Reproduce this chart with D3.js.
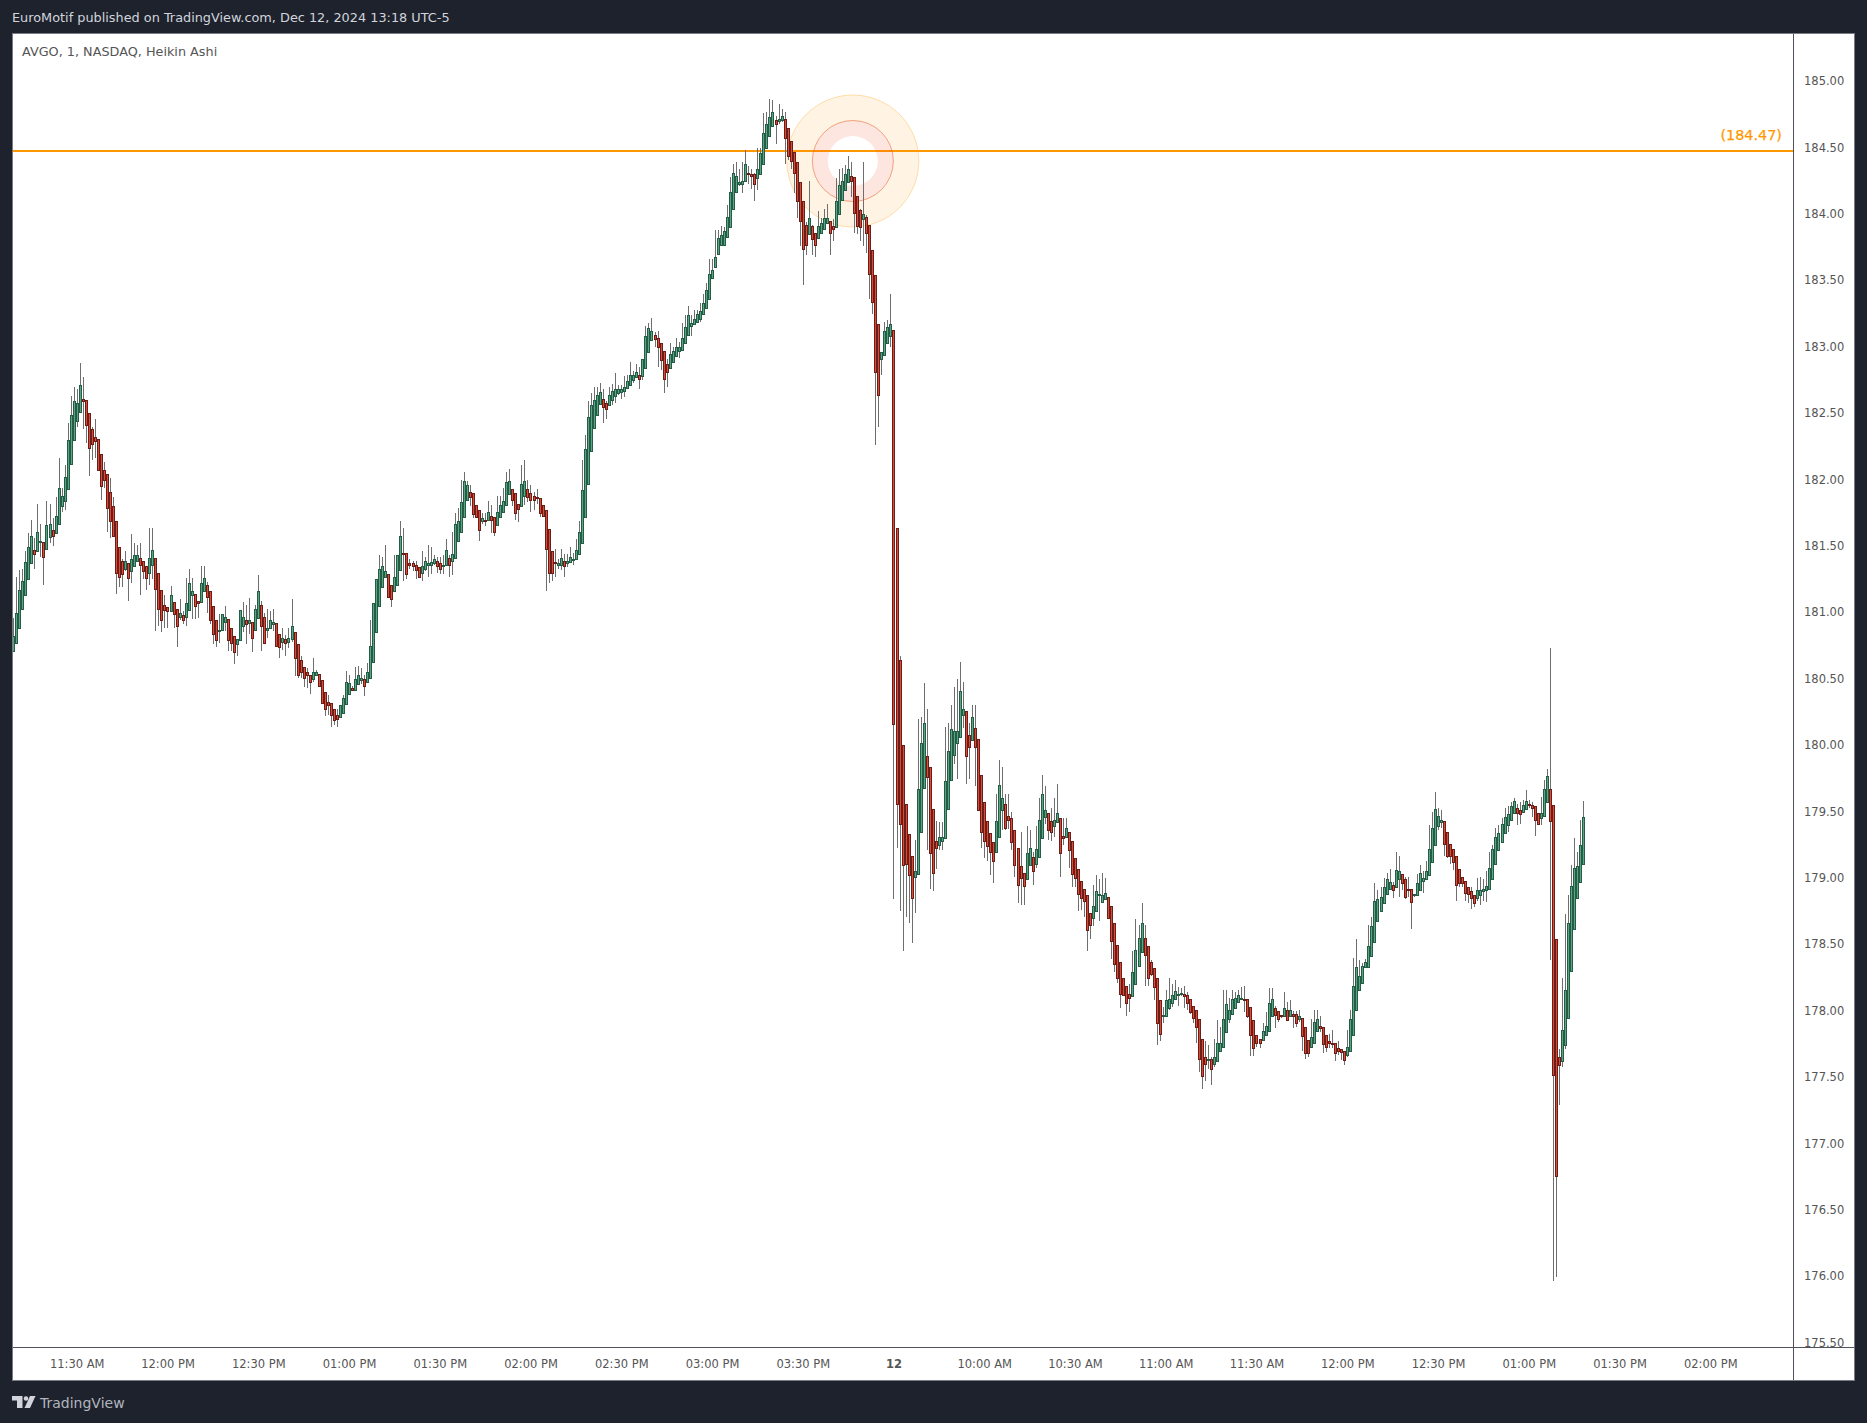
<!DOCTYPE html>
<html><head><meta charset="utf-8">
<script src="https://d3js.org/d3.v7.min.js"></script>
<style>
html,body{margin:0;padding:0;background:#1e222d;width:1867px;height:1423px;overflow:hidden}
svg{display:block}
text{font-family:"DejaVu Sans",sans-serif}
</style></head><body>
<script>
const opens=[
180.70,180.76,180.87,181.02,181.12,181.24,181.36,181.46,181.45,181.52,
181.52,181.47,181.56,181.61,181.59,181.66,181.79,181.83,181.92,182.11,
182.29,182.43,182.50,182.60,182.59,182.49,182.37,182.31,182.30,182.18,
182.06,182.03,181.90,181.79,181.68,181.48,181.38,181.32,181.36,181.30,
181.34,181.38,181.40,181.38,181.34,181.29,181.35,181.40,181.29,181.16,
181.05,181.03,181.00,181.07,181.02,180.96,180.97,180.96,181.01,181.12,
181.13,181.08,181.07,181.15,181.20,181.15,181.04,180.93,180.85,180.86,
180.92,180.94,180.87,180.81,180.75,180.78,180.89,180.93,180.91,180.92,
180.86,180.95,181.05,180.96,180.86,180.87,180.90,180.91,180.83,180.77,
180.79,180.77,180.79,180.84,180.75,180.63,180.58,180.54,180.52,180.49,
180.52,180.53,180.48,180.39,180.32,180.31,180.26,180.22,180.20,180.23,
180.30,180.38,180.42,180.41,180.45,180.48,180.49,180.47,180.50,180.62,
180.84,181.04,181.18,181.26,181.28,181.20,181.15,181.20,181.31,181.44,
181.44,181.36,181.36,181.35,181.33,181.29,181.32,181.35,181.35,181.36,
181.38,181.36,181.34,181.35,181.40,181.38,181.40,181.53,181.60,181.71,
181.84,181.90,181.89,181.80,181.76,181.68,181.69,181.69,181.72,181.71,
181.65,181.71,181.75,181.80,181.88,181.92,181.89,181.81,181.79,181.87,
181.92,181.89,181.87,181.86,181.85,181.80,181.76,181.62,181.45,181.37,
181.35,181.35,181.38,181.36,181.37,181.39,181.39,181.43,181.51,181.71,
181.96,182.21,182.38,182.48,182.56,182.60,182.57,182.55,182.59,182.62,
182.64,182.65,182.66,182.68,182.70,182.74,182.76,182.78,182.77,182.83,
182.95,183.04,183.08,183.06,183.02,182.96,182.86,182.83,182.88,182.92,
182.96,182.97,183.02,183.08,183.15,183.16,183.18,183.20,183.24,183.28,
183.35,183.51,183.59,183.69,183.76,183.76,183.82,183.89,184.03,184.16,
184.22,184.22,184.24,184.30,184.29,184.29,184.26,184.29,184.37,184.49,
184.58,184.65,184.70,184.69,184.70,184.71,184.64,184.54,184.46,184.38,
184.23,184.09,183.91,183.84,183.90,183.85,183.81,183.85,183.88,183.92,
183.94,183.90,183.89,183.99,184.10,184.17,184.23,184.28,184.27,184.13,
184.02,183.95,183.97,183.91,183.72,183.53,183.16,182.90,182.93,183.02,
183.07,183.12,181.63,180.63,179.99,179.55,179.32,179.16,179.00,179.02,
179.34,179.67,179.91,179.83,179.51,179.27,179.24,179.27,179.29,179.51,
179.73,179.92,180.01,180.05,180.22,180.25,180.07,180.03,180.12,180.04,
179.77,179.56,179.42,179.33,179.26,179.19,179.30,179.50,179.55,179.46,
179.44,179.35,179.22,179.08,179.03,178.98,179.09,179.15,179.10,179.15,
179.29,179.45,179.48,179.42,179.38,179.41,179.44,179.31,179.30,179.34,
179.27,179.14,179.06,178.97,178.91,178.86,178.73,178.69,178.74,178.86,
178.81,178.83,178.85,178.78,178.65,178.49,178.36,178.24,178.18,178.12,
178.10,178.19,178.33,178.43,178.54,178.48,178.36,178.31,178.24,178.07,
177.95,177.95,178.01,178.05,178.08,178.11,178.12,178.12,178.11,178.08,
178.03,178.00,177.93,177.78,177.64,177.62,177.63,177.59,177.61,177.69,
177.72,177.83,177.93,177.97,178.01,178.06,178.08,178.08,178.08,178.02,
177.92,177.81,177.78,177.77,177.81,177.84,177.95,178.01,177.99,177.96,
177.95,178.00,177.95,177.97,177.97,177.93,177.94,177.87,177.77,177.72,
177.75,177.84,177.88,177.87,177.81,177.76,177.75,177.75,177.71,177.70,
177.69,177.66,177.69,177.81,178.00,178.15,178.20,178.32,178.32,178.40,
178.51,178.67,178.74,178.80,178.87,178.91,178.94,178.92,178.98,179.02,
178.98,178.91,178.91,178.86,178.86,178.90,178.97,178.98,179.01,179.11,
179.24,179.38,179.41,179.42,179.34,179.25,179.21,179.16,179.06,179.00,
178.97,178.92,178.89,178.86,178.84,178.86,178.89,178.90,178.91,178.98,
179.10,179.20,179.26,179.33,179.39,179.43,179.48,179.52,179.50,179.49,
179.51,179.55,179.54,179.53,179.48,179.44,179.46,179.56,179.66,179.54,
178.53,177.64,177.61,177.73,177.94,178.29,178.61,178.84,178.96,179.10];
const closes=[
180.81,180.99,181.16,181.23,181.37,181.48,181.57,181.43,181.60,181.53,
181.41,181.65,181.66,181.57,181.72,181.93,181.87,182.01,182.29,182.48,
182.58,182.57,182.70,182.58,182.40,182.23,182.26,182.28,182.06,181.94,
181.99,181.78,181.68,181.57,181.29,181.26,181.28,181.38,181.25,181.39,
181.42,181.42,181.35,181.30,181.25,181.40,181.46,181.17,181.02,180.93,
181.01,181.00,181.12,180.98,180.89,180.99,180.93,181.06,181.21,181.15,
181.04,181.06,181.21,181.25,181.11,180.93,180.83,180.78,180.86,180.98,
180.96,180.78,180.76,180.69,180.79,181.01,180.96,180.90,180.93,180.80,
181.02,181.15,180.89,180.76,180.87,180.93,180.92,180.74,180.73,180.80,
180.76,180.80,180.89,180.65,180.52,180.54,180.50,180.52,180.47,180.54,
180.54,180.44,180.31,180.26,180.29,180.22,180.18,180.19,180.29,180.35,
180.47,180.46,180.41,180.49,180.52,180.50,180.44,180.54,180.74,181.06,
181.24,181.32,181.34,181.30,181.11,181.09,181.26,181.42,181.57,181.43,
181.28,181.35,181.34,181.31,181.26,181.34,181.38,181.36,181.37,181.39,
181.34,181.32,181.35,181.46,181.35,181.43,181.66,181.68,181.82,181.98,
181.95,181.86,181.73,181.71,181.61,181.70,181.68,181.75,181.69,181.60,
181.75,181.80,181.83,181.97,181.98,181.84,181.74,181.77,181.96,181.98,
181.86,181.84,181.84,181.85,181.74,181.72,181.47,181.29,181.29,181.36,
181.36,181.40,181.34,181.38,181.41,181.39,181.46,181.60,181.91,182.22,
182.46,182.55,182.59,182.63,182.65,182.54,182.52,182.63,182.66,182.67,
182.67,182.67,182.69,182.73,182.78,182.78,182.80,182.75,182.90,183.07,
183.13,183.11,183.05,182.99,182.89,182.75,182.80,182.94,182.96,182.99,
182.99,183.06,183.14,183.23,183.17,183.20,183.24,183.26,183.32,183.42,
183.54,183.57,183.67,183.81,183.83,183.86,183.97,184.16,184.30,184.28,
184.23,184.24,184.37,184.29,184.28,184.22,184.33,184.45,184.60,184.67,
184.72,184.76,184.67,184.71,184.73,184.56,184.43,184.39,184.30,184.09,
183.94,183.73,183.76,183.96,183.80,183.76,183.90,183.92,183.96,183.96,
183.85,183.88,184.09,184.21,184.24,184.29,184.33,184.24,184.00,183.90,
183.89,183.99,183.85,183.54,183.33,182.80,182.63,182.95,183.11,183.14,
183.16,180.15,179.55,179.40,179.09,179.10,179.01,178.84,179.04,179.66,
180.01,180.16,179.75,179.18,179.03,179.22,179.30,179.30,179.72,179.95,
180.11,180.10,180.10,180.40,180.26,179.91,179.98,180.20,179.98,179.50,
179.34,179.27,179.23,179.19,179.12,179.42,179.69,179.59,179.37,179.43,
179.26,179.09,178.94,178.99,178.93,179.18,179.22,179.04,179.21,179.43,
179.62,179.50,179.35,179.34,179.43,179.48,179.18,179.29,179.37,179.20,
179.02,178.99,178.87,178.84,178.82,178.60,178.64,178.78,178.89,178.87,
178.86,178.88,178.69,178.52,178.34,178.24,178.12,178.11,178.05,178.09,
178.28,178.45,178.54,178.65,178.41,178.24,178.27,178.17,177.90,177.82,
177.96,178.07,178.08,178.11,178.14,178.12,178.125,178.10,178.05,177.98,
177.94,177.87,177.63,177.50,177.59,177.63,177.55,177.64,177.75,177.75,
177.93,178.04,178.00,178.08,178.09,178.11,178.09,178.07,177.95,177.81,
177.71,177.75,177.75,177.84,177.88,178.05,178.08,177.96,177.93,177.95,
178.01,177.92,178.00,177.95,177.90,177.95,177.80,177.67,177.67,177.79,
177.91,177.93,177.86,177.74,177.72,177.75,177.745,177.67,177.69,177.68,
177.62,177.72,177.93,178.18,178.32,178.25,178.33,178.36,178.48,178.63,
178.82,178.83,178.85,178.92,178.98,178.96,178.90,179.05,179.04,178.95,
178.85,178.90,178.81,178.87,178.95,179.03,178.99,179.04,179.21,179.37,
179.51,179.46,179.43,179.25,179.16,179.16,179.11,178.94,178.95,178.95,
178.88,178.87,178.84,178.80,178.90,178.90,178.91,178.93,179.07,179.21,
179.30,179.33,179.40,179.45,179.47,179.53,179.57,179.48,179.47,179.54,
179.57,179.54,179.52,179.43,179.40,179.48,179.66,179.76,179.42,177.51,
176.75,177.58,177.85,178.15,178.65,178.93,179.07,179.08,179.24,179.45];
const highs=[
180.95,181.26,181.31,181.32,181.45,181.59,181.69,181.55,181.81,181.66,
181.52,181.83,181.81,181.70,181.86,182.15,181.93,182.10,182.42,182.62,
182.69,182.67,182.87,182.76,182.59,182.49,182.39,182.45,182.30,182.18,
182.12,182.03,182.00,181.86,181.68,181.48,181.39,181.45,181.36,181.58,
181.51,181.50,181.51,181.38,181.34,181.63,181.63,181.40,181.29,181.16,
181.12,181.03,181.19,181.07,181.02,181.09,181.00,181.25,181.32,181.25,
181.13,181.08,181.34,181.34,181.22,181.15,181.04,180.93,180.98,180.98,
181.04,180.94,180.87,180.81,180.79,181.01,181.07,181.05,181.10,180.92,
181.05,181.27,181.08,180.99,181.02,181.00,181.02,180.91,180.83,180.87,
180.82,180.87,181.09,180.84,180.75,180.66,180.58,180.57,180.52,180.65,
180.56,180.53,180.48,180.39,180.37,180.31,180.26,180.26,180.29,180.37,
180.55,180.52,180.44,180.58,180.59,180.57,180.52,180.61,180.93,181.06,
181.24,181.42,181.41,181.50,181.28,181.20,181.42,181.42,181.68,181.63,
181.44,181.39,181.38,181.38,181.33,181.45,181.41,181.50,181.48,181.42,
181.41,181.41,181.42,181.54,181.42,181.60,181.74,181.78,181.99,182.05,
181.98,181.95,181.89,181.80,181.76,181.74,181.74,181.83,181.80,181.71,
181.87,181.87,181.93,182.05,182.07,181.92,181.89,181.81,182.10,182.14,
181.99,181.95,181.90,181.92,181.85,181.80,181.76,181.62,181.45,181.47,
181.39,181.47,181.43,181.43,181.48,181.44,181.54,181.68,182.14,182.33,
182.58,182.64,182.69,182.69,182.72,182.67,182.58,182.69,182.71,182.79,
182.70,182.70,182.77,182.78,182.88,182.81,182.86,182.84,182.90,183.15,
183.17,183.21,183.10,183.11,183.02,182.96,182.90,183.02,182.99,183.06,
183.03,183.17,183.23,183.30,183.23,183.27,183.27,183.32,183.39,183.47,
183.65,183.65,183.87,183.87,183.90,183.89,184.06,184.27,184.37,184.38,
184.33,184.38,184.47,184.35,184.33,184.30,184.49,184.49,184.75,184.76,
184.86,184.85,184.73,184.82,184.78,184.76,184.64,184.54,184.46,184.38,
184.23,184.09,183.93,184.24,183.91,183.85,184.01,183.96,184.03,184.07,
183.94,183.95,184.26,184.33,184.34,184.36,184.43,184.38,184.27,184.13,
184.03,184.38,183.98,183.91,183.72,183.53,183.16,182.95,183.18,183.19,
183.39,183.12,181.63,180.66,179.99,179.55,179.32,179.16,179.28,180.19,
180.20,180.46,180.26,179.83,179.51,179.42,179.41,179.41,180.13,180.16,
180.29,180.43,180.49,180.62,180.47,180.25,180.16,180.29,180.29,180.04,
179.77,179.56,179.42,179.33,179.26,179.62,179.88,179.83,179.62,179.62,
179.49,179.35,179.22,179.34,179.03,179.38,179.35,179.19,179.38,179.59,
179.77,179.68,179.48,179.52,179.59,179.70,179.44,179.44,179.44,179.34,
179.27,179.14,179.06,178.97,178.91,178.86,178.73,178.94,179.01,178.98,
179.03,178.99,178.85,178.78,178.65,178.49,178.36,178.24,178.18,178.19,
178.44,178.68,178.64,178.80,178.64,178.48,178.37,178.31,178.24,178.07,
178.02,178.15,178.24,178.19,178.22,178.17,178.16,178.18,178.13,178.08,
178.03,178.00,177.93,177.78,177.76,177.73,177.64,177.78,177.92,177.87,
178.15,178.15,178.09,178.15,178.13,178.15,178.17,178.18,178.08,178.02,
177.92,177.81,177.78,177.90,177.98,178.16,178.16,178.03,177.99,177.96,
178.13,178.06,178.07,177.99,177.99,178.00,177.94,177.87,177.77,177.93,
178.00,178.00,177.95,177.87,177.81,177.82,177.85,177.75,177.76,177.70,
177.69,177.85,178.00,178.39,178.53,178.37,178.35,178.38,178.64,178.70,
178.95,178.90,178.92,178.99,179.03,179.06,178.96,179.19,179.16,179.02,
179.00,179.00,178.91,178.87,179.02,179.09,179.04,179.12,179.39,179.49,
179.64,179.52,179.50,179.42,179.34,179.25,179.21,179.16,179.06,179.00,
178.97,178.92,178.92,178.86,178.99,179.00,178.98,179.04,179.19,179.24,
179.37,179.39,179.44,179.52,179.53,179.56,179.59,179.55,179.56,179.58,
179.65,179.58,179.56,179.53,179.48,179.60,179.73,179.81,180.72,179.54,
178.53,177.70,178.24,178.72,178.86,179.09,179.29,179.19,179.43,179.57];
const lows=[
180.70,180.76,180.87,181.02,181.12,181.24,181.36,181.32,181.45,181.41,
181.20,181.46,181.51,181.49,181.59,181.66,181.75,181.76,181.92,182.11,
182.29,182.39,182.50,182.37,182.27,182.02,182.14,182.15,182.06,181.84,
181.93,181.60,181.55,181.57,181.13,181.18,181.18,181.30,181.08,181.21,
181.33,181.38,181.12,181.24,181.16,181.20,181.24,180.85,180.89,180.84,
180.87,180.87,181.00,180.87,180.73,180.93,180.90,180.89,181.01,180.94,
180.94,180.95,181.07,181.15,180.99,180.90,180.75,180.73,180.76,180.85,
180.85,180.70,180.70,180.60,180.66,180.78,180.84,180.75,180.83,180.69,
180.86,180.95,180.70,180.76,180.80,180.87,180.85,180.74,180.65,180.71,
180.66,180.72,180.77,180.51,180.50,180.50,180.43,180.42,180.38,180.47,
180.52,180.43,180.30,180.21,180.22,180.13,180.14,180.13,180.20,180.23,
180.30,180.38,180.41,180.41,180.45,180.45,180.36,180.47,180.50,180.62,
180.84,181.04,181.18,181.26,181.10,181.03,181.15,181.20,181.31,181.23,
181.24,181.32,181.30,181.24,181.26,181.23,181.30,181.26,181.28,181.35,
181.29,181.28,181.28,181.35,181.26,181.27,181.40,181.53,181.60,181.71,
181.84,181.79,181.70,181.70,181.53,181.66,181.64,181.69,181.59,181.57,
181.65,181.71,181.75,181.80,181.88,181.79,181.69,181.67,181.79,181.80,
181.82,181.75,181.76,181.81,181.71,181.71,181.15,181.21,181.23,181.26,
181.32,181.31,181.26,181.33,181.36,181.35,181.39,181.43,181.51,181.71,
181.96,182.21,182.38,182.48,182.56,182.42,182.45,182.55,182.55,182.57,
182.63,182.60,182.61,182.68,182.70,182.72,182.76,182.67,182.74,182.83,
182.95,183.04,182.99,182.84,182.82,182.64,182.69,182.83,182.88,182.92,
182.91,182.97,183.02,183.08,183.07,183.16,183.17,183.18,183.24,183.28,
183.35,183.51,183.59,183.69,183.76,183.76,183.82,183.89,184.03,184.16,
184.20,184.15,184.24,184.22,184.18,184.09,184.17,184.29,184.37,184.49,
184.58,184.65,184.52,184.67,184.68,184.37,184.40,184.33,184.15,183.96,
183.75,183.46,183.68,183.84,183.68,183.67,183.81,183.85,183.88,183.92,
183.68,183.79,183.89,183.99,184.10,184.17,184.23,184.12,183.85,183.84,
183.79,183.75,183.70,183.35,183.24,182.25,182.39,182.78,182.93,183.02,
182.99,178.83,179.22,178.74,178.44,178.70,178.65,178.50,178.73,179.02,
179.34,179.67,179.20,178.91,178.89,179.06,179.20,179.20,179.29,179.51,
179.73,179.85,179.74,180.05,180.12,179.70,179.74,180.03,179.68,179.50,
179.22,179.14,179.12,179.01,178.95,179.19,179.30,179.35,179.35,179.36,
179.20,179.00,178.80,178.79,178.79,178.98,179.09,178.94,179.07,179.15,
179.29,179.40,179.28,179.27,179.30,179.41,179.00,179.24,179.30,179.07,
178.92,178.92,178.74,178.75,178.70,178.44,178.53,178.63,178.74,178.67,
178.81,178.83,178.68,178.38,178.28,178.20,178.01,178.10,177.95,177.98,
178.10,178.19,178.33,178.43,178.18,178.18,178.25,178.07,177.73,177.76,
177.90,177.95,178.00,178.02,178.08,178.03,178.10,178.01,178.00,177.97,
177.90,177.75,177.53,177.40,177.46,177.55,177.43,177.57,177.61,177.69,
177.72,177.83,177.90,177.97,178.01,178.06,178.08,177.98,177.94,177.65,
177.65,177.72,177.71,177.77,177.81,177.84,177.95,177.86,177.91,177.94,
177.95,177.92,177.95,177.86,177.87,177.91,177.69,177.63,177.64,177.72,
177.75,177.84,177.83,177.67,177.68,177.71,177.71,177.61,177.66,177.62,
177.58,177.64,177.69,177.81,178.00,178.15,178.20,178.32,178.32,178.40,
178.51,178.67,178.74,178.80,178.87,178.91,178.84,178.92,178.85,178.90,
178.83,178.85,178.61,178.85,178.86,178.90,178.88,178.98,179.01,179.11,
179.24,179.35,179.37,179.16,179.14,179.10,179.05,178.82,178.92,178.92,
178.82,178.80,178.76,178.77,178.82,178.79,178.82,178.81,178.91,178.98,
179.10,179.20,179.26,179.33,179.34,179.43,179.48,179.39,179.40,179.48,
179.51,179.52,179.45,179.31,179.40,179.39,179.46,179.56,178.37,175.96,
175.99,177.28,177.57,177.70,177.94,178.29,178.61,178.84,178.96,179.10];
const priceTicks=[185,184.5,184,183.5,183,182.5,182,181.5,181,180.5,180,179.5,179,178.5,178,177.5,177,176.5,176,175.5];
const timeTickBars=[21,51,81,111,141,171,201,231,261,291,321,351,381,411,441,471,501,531,561];
const timeTickLabels=["11:30 AM","12:00 PM","12:30 PM","01:00 PM","01:30 PM","02:00 PM","02:30 PM","03:00 PM","03:30 PM","12","10:00 AM","10:30 AM","11:00 AM","11:30 AM","12:00 PM","12:30 PM","01:00 PM","01:30 PM","02:00 PM"];
const levelPrice=184.47;
const pulseBar=277.3, pulsePrice=184.39;

const svg=d3.select("body").append("svg").attr("width",1867).attr("height",1423);
const x=d3.scaleLinear().domain([0,519]).range([13.2,1583.2]);
const y=d3.scaleLinear().domain([185,175.5]).range([80,1341.6]);

svg.append("rect").attr("x",12).attr("y",33).attr("width",1843).attr("height",1348).attr("fill","#fff");

const defs=svg.append("defs");
defs.append("clipPath").attr("id","plot").append("rect").attr("x",12.5).attr("y",33).attr("width",1780.5).attr("height",1314);

const lineG=svg.append("g").attr("clip-path","url(#plot)");
lineG.append("line").attr("x1",12).attr("x2",1793).attr("y1",y(levelPrice)+0.6).attr("y2",y(levelPrice)+0.6).attr("stroke","#ff9800").attr("stroke-width",2);
const ringArc=(r0,r1)=>d3.arc().innerRadius(r0).outerRadius(r1).startAngle(0).endAngle(2*Math.PI)();
const cx=x(pulseBar)+0.8, cy=y(pulsePrice);
lineG.append("path").attr("transform",`translate(${cx},${cy})`).attr("d",ringArc(40.5,66)).attr("fill","#ff9800").attr("fill-opacity",0.11);
lineG.append("path").attr("transform",`translate(${cx},${cy})`).attr("d",ringArc(25,40.5)).attr("fill","#f4511e").attr("fill-opacity",0.14);
lineG.append("circle").attr("cx",cx).attr("cy",cy).attr("r",66).attr("fill","none").attr("stroke","#ff9800").attr("stroke-opacity",0.3).attr("stroke-width",1);
lineG.append("circle").attr("cx",cx).attr("cy",cy).attr("r",40.5).attr("fill","none").attr("stroke","#e8632a").attr("stroke-opacity",0.55).attr("stroke-width",1);

const bars=d3.range(opens.length).map(i=>({i,o:opens[i],c:closes[i],h:highs[i],l:lows[i]}));
const px=d=>Math.round(x(d.i));
const plot=svg.append("g").attr("clip-path","url(#plot)").attr("shape-rendering","crispEdges");

plot.append("g").selectAll("rect").data(bars).join("rect")
 .attr("x",px).attr("width",1)
 .attr("y",d=>Math.round(y(d.h))).attr("height",d=>Math.max(1,Math.round(y(d.l))-Math.round(y(d.h))))
 .attr("fill","#6e6e6e");
const bodyTop=d=>Math.round(y(Math.max(d.o,d.c)));
const bodyH=d=>Math.max(2,Math.round(y(Math.min(d.o,d.c)))-bodyTop(d)+1);
const bodies=plot.append("g").selectAll("g").data(bars).join("g");
bodies.append("rect").attr("x",d=>px(d)-1).attr("width",3).attr("y",bodyTop).attr("height",bodyH)
 .attr("fill",d=>d.c>=d.o?"#245c46":"#6b1e18");
bodies.filter(d=>bodyH(d)>2).append("rect").attr("x",px).attr("width",1).attr("y",d=>bodyTop(d)+1).attr("height",d=>bodyH(d)-2)
 .attr("fill",d=>d.c>=d.o?"#5aa583":"#dc4a38");

svg.append("text").attr("x",1782).attr("y",y(levelPrice)-10.5).attr("text-anchor","end").attr("font-size",14.4).attr("fill","#ff9800").attr("stroke","#ff9800").attr("stroke-width",0.25).text(`(${levelPrice.toFixed(2)})`);

// price axis
const yAxis=d3.axisRight(y).tickValues(priceTicks).tickSize(0).tickPadding(11).tickFormat(d3.format(".2f"));
const ya=svg.append("g").attr("transform","translate(1793,1)").call(yAxis);
ya.select(".domain").remove();
ya.selectAll("text").attr("font-size",11.5).attr("font-family","DejaVu Sans").attr("fill","#555");

// time axis
const xAxis=d3.axisBottom(x).tickValues(timeTickBars).tickSize(0).tickPadding(12.5).tickFormat((d,i)=>timeTickLabels[i]);
const xa=svg.append("g").attr("transform","translate(0,1347)").call(xAxis);
xa.select(".domain").remove();
xa.selectAll("text").attr("font-size",11.5).attr("font-family","DejaVu Sans").attr("fill","#555")
 .attr("font-weight",(d,i)=>timeTickLabels[i]==="12"?"700":"400");

// frame
const f=svg.append("g").attr("shape-rendering","crispEdges");
f.append("line").attr("x1",1793.5).attr("x2",1793.5).attr("y1",33).attr("y2",1381).attr("stroke","#50535e");
f.append("line").attr("x1",12).attr("x2",1855).attr("y1",1347.5).attr("y2",1347.5).attr("stroke","#50535e");
f.append("rect").attr("x",12.5).attr("y",33.5).attr("width",1842).attr("height",1347).attr("fill","none").attr("stroke","#787b86");

svg.append("text").attr("x",12).attr("y",22).attr("font-size",12.85).attr("fill","#d1d4dc").text("EuroMotif published on TradingView.com, Dec 12, 2024 13:18 UTC-5");
svg.append("text").attr("x",22).attr("y",56).attr("font-size",12.8).attr("fill","#555").text("AVGO, 1, NASDAQ, Heikin Ashi");

// footer
const logo=svg.append("g").attr("fill","#d1d4dc");
logo.append("path").attr("d","M12,1396H22.5V1408H17V1400.5H12Z");
logo.append("circle").attr("cx",26).attr("cy",1398.5).attr("r",2.3);
logo.append("path").attr("d","M30,1396H35.5L30,1408H24.5Z");
svg.append("text").attr("x",40).attr("y",1408).attr("font-size",14).attr("fill","#b2b5be").text("TradingView");
</script>
</body></html>
